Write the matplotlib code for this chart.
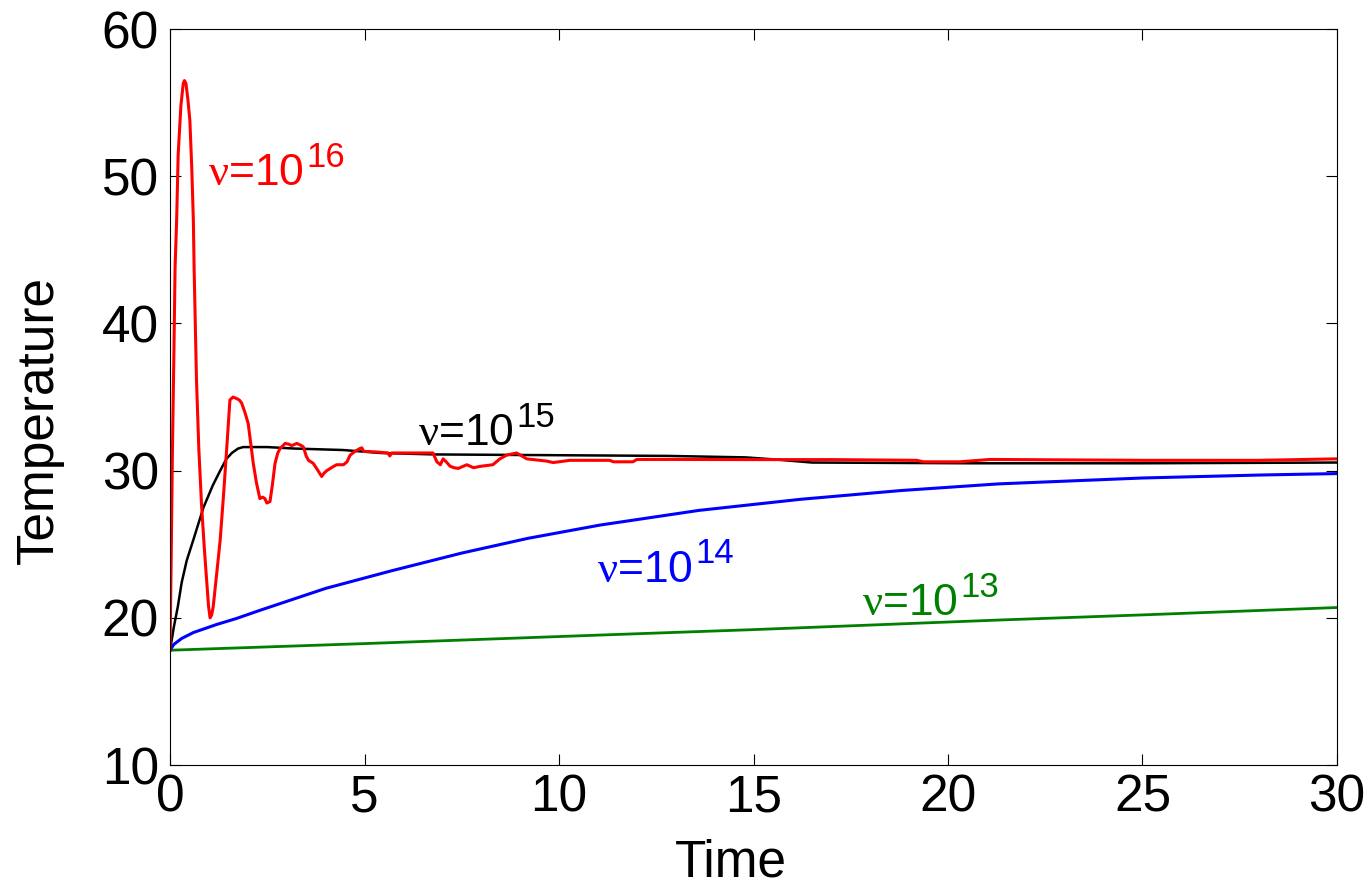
import matplotlib
matplotlib.use("Agg")
import matplotlib.pyplot as plt

# ── data ───────────────────────────────────────────────────────────────────
red_t = [0, 0.03, 0.06, 0.1, 0.13, 0.17, 0.21, 0.28, 0.34, 0.37, 0.41, 0.46,
         0.51, 0.56, 0.6, 0.62, 0.68, 0.74, 0.81, 0.88, 0.94, 0.99, 1.03, 1.07,
         1.11, 1.2, 1.29, 1.38, 1.46, 1.54, 1.62, 1.71, 1.78, 1.84, 1.92, 2.01,
         2.14, 2.22, 2.31, 2.38, 2.44, 2.49, 2.57, 2.63, 2.7, 2.77, 2.83, 2.96,
         3.05, 3.13, 3.26, 3.38, 3.43, 3.5, 3.56, 3.62, 3.68, 3.78, 3.9, 3.95,
         4.03, 4.15, 4.28, 4.46, 4.55, 4.63, 4.75, 4.88, 4.93, 4.98, 5.1, 5.4,
         5.6, 5.65, 5.7, 6.0, 6.76, 6.86, 6.95, 7.02, 7.1, 7.2, 7.3, 7.41, 7.63,
         7.8, 8.0, 8.3, 8.48, 8.66, 8.91, 9.17, 9.68, 9.85, 10.0, 10.28, 11.3,
         11.4, 11.9, 12.0, 13.1, 15, 17, 19.2, 19.36, 20.3, 21.08, 25.0, 28.0, 30]
red_y = [17.8, 24, 31, 38, 43.8, 47, 51.5, 54.8, 56.3, 56.5, 56.3, 55.2,
         53.8, 50.5, 47, 43.7, 36.2, 31.5, 27.7, 24.8, 22.6, 20.8, 20.0, 20.2,
         20.75, 23.0, 25.3, 28.5, 31.6, 34.8, 35.0, 34.9, 34.8, 34.6, 34.0, 33.2,
         30.5, 29.2, 28.1, 28.2, 28.1, 27.8, 27.9, 29.0, 30.5, 31.2, 31.5, 31.85,
         31.8, 31.7, 31.85, 31.7, 31.6, 31.0, 30.7, 30.6, 30.5, 30.1, 29.6, 29.8,
         30.0, 30.2, 30.4, 30.4, 30.6, 31.05, 31.3, 31.5, 31.55, 31.3, 31.3, 31.25,
         31.2, 31.0, 31.2, 31.2, 31.2, 30.6, 30.4, 30.8, 30.6, 30.3, 30.2, 30.15, 30.4,
         30.2, 30.3, 30.4, 30.8, 31.06, 31.2, 30.8, 30.65, 30.55, 30.6, 30.7, 30.7,
         30.6, 30.6, 30.76, 30.76, 30.75, 30.75, 30.7, 30.6, 30.6, 30.76, 30.7, 30.7, 30.8]

black_t = [0, 0.05, 0.1, 0.2, 0.3, 0.43, 0.6, 0.86, 1.1, 1.29, 1.45, 1.59, 1.75,
           1.88, 2.5, 3.2, 4.45, 5.4, 6.8, 12.8, 14.8, 15.6, 16.5, 20.6, 25, 30]
black_y = [17.8, 18.6, 19.4, 20.75, 22.4, 23.9, 25.3, 27.5, 29.0, 30.0, 30.8, 31.2, 31.5,
           31.6, 31.6, 31.5, 31.4, 31.2, 31.1, 31.0, 30.9, 30.75, 30.55, 30.5, 30.5, 30.55]

blue_t = [0, 0.1, 0.3, 0.6, 1.2, 1.7, 2.3, 4.0, 5.7, 7.5, 9.2, 11.05, 13.6, 16.2,
          18.8, 21.3, 25, 28, 30]
blue_y = [17.8, 18.2, 18.6, 19.0, 19.55, 19.95, 20.5, 22.0, 23.2, 24.4, 25.4, 26.3,
          27.3, 28.05, 28.65, 29.1, 29.5, 29.7, 29.8]

green_t = [0, 5, 11.05, 15, 21.3, 25, 30]
green_y = [17.8, 18.25, 18.83, 19.2, 19.85, 20.2, 20.7]

# curve labels: exponent, anchor (time, temperature) at baseline start
labels = ["16", "15", "14", "13"]
label_t = [0.98, 6.38, 10.97, 17.78]
label_y = [49.4, 31.74, 22.45, 20.19]
colors = ["#ff0000", "#000000", "#0000ff", "#008000"]

plt.rcParams["font.family"] = ["Liberation Sans", "DejaVu Sans"]
plt.rcParams["mathtext.fontset"] = "custom"
plt.rcParams["mathtext.rm"] = "Liberation Serif"

fig = plt.figure(figsize=(13.7, 8.9), dpi=100)
ax = fig.add_axes([0.1241, 0.1404, 0.8518, 0.827])

ax.plot(green_t, green_y, color=colors[3], lw=2.0)
ax.plot(blue_t, blue_y, color=colors[2], lw=2.2)
ax.plot(black_t, black_y, color=colors[1], lw=1.8)
ax.plot(red_t, red_y, color=colors[0], lw=2.2)

for exp, t, y, c in zip(labels, label_t, label_y, colors):
    base = ax.text(t, y, r"$\mathrm{\nu}$=10", color=c, fontsize=32,
                   ha="left", va="baseline")
    # superscript placed just past the top-right corner of the base text
    ax.annotate(exp, xy=(1.0, 1.0), xycoords=base,
                xytext=(2, 9), textcoords="offset points",
                color=c, fontsize=25, ha="left", va="top")

ax.set_xlim(0, 30)
ax.set_ylim(10, 60)
ax.set_xticks([0, 5, 10, 15, 20, 25, 30])
ax.set_yticks([10, 20, 30, 40, 50, 60])
ax.tick_params(direction="in", length=8, width=0.8, labelsize=37,
               top=True, right=True)
ax.tick_params(axis="x", pad=6)
ax.tick_params(axis="y", pad=8)
for spine in ax.spines.values():
    spine.set_linewidth(0.8)

ax.set_xlabel("Time", fontsize=37)
ax.set_ylabel("Temperature", fontsize=37)
ax.xaxis.set_label_coords(0.481, -0.10)
ax.yaxis.set_label_coords(-0.091, 0.469)

fig.savefig("out.png", dpi=100)
